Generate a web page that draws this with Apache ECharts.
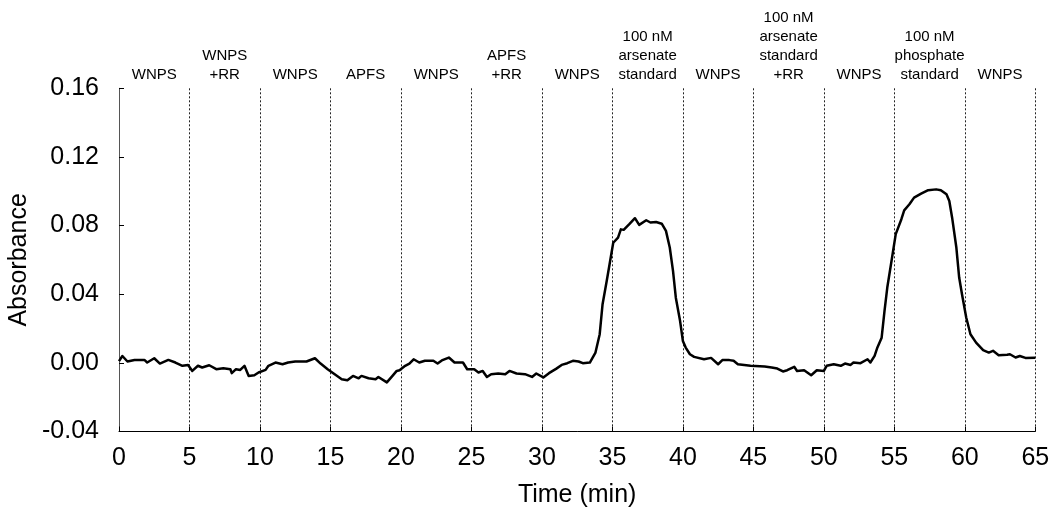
<!DOCTYPE html>
<html>
<head>
<meta charset="utf-8">
<title>Absorbance vs time</title>
<script src="https://cdn.jsdelivr.net/npm/echarts@6/dist/echarts.min.js"></script>
<style>
  html, body { margin: 0; padding: 0; background: #fff; }
  #chart { width: 1054px; height: 515px; }
</style>
</head>
<body>
<div id="chart"></div>
<script>
// Sample sequence: one label per 5-minute injection window
const segmentLabels = [
  'WNPS', 'WNPS\n+RR', 'WNPS', 'APFS', 'WNPS', 'APFS\n+RR', 'WNPS',
  '100 nM\narsenate\nstandard', 'WNPS', '100 nM\narsenate\nstandard\n+RR',
  'WNPS', '100 nM\nphosphate\nstandard', 'WNPS'
];

// Detector trace: time (min) and absorbance
const timeMin = [
  0.0, 0.24, 0.6, 1.1, 1.8, 2.0, 2.5, 2.9, 3.5, 4.0, 4.5, 4.9,
  5.2, 5.6, 5.9, 6.4, 6.9, 7.4, 7.9, 8.0, 8.3, 8.6, 8.9, 9.2, 9.6, 9.9,
  10.4, 10.6, 11.1, 11.6, 12.0, 12.5, 13.3, 13.9, 14.3, 14.8,
  15.3, 15.8, 16.2, 16.6, 17.0, 17.2, 17.7, 18.2, 18.4, 19.0, 19.4, 19.7, 19.9,
  20.3, 20.6, 20.9, 21.3, 21.7, 22.3, 22.6, 22.9, 23.4, 23.8, 24.4, 24.7,
  25.2, 25.5, 25.8, 26.1, 26.4, 26.9, 27.4, 27.7, 28.2, 28.8, 29.3, 29.6,
  30.1, 30.5, 31.0, 31.4, 31.8, 32.2, 32.6, 32.9, 33.4, 33.8,
  34.1, 34.3, 34.6, 34.8, 35.06, 35.4, 35.6, 35.8, 36.2, 36.6, 36.9, 37.4, 37.7,
  38.1, 38.5, 38.8, 39.07, 39.3, 39.5, 39.8, 40.0, 40.2, 40.5, 40.8,
  41.5, 42.0, 42.5, 42.8, 43.3, 43.6, 43.9, 44.8, 45.8, 46.3, 46.7,
  47.1, 47.4, 47.9, 48.1, 48.6, 49.1, 49.5, 50.0, 50.2, 50.7, 51.2, 51.5, 51.9,
  52.1, 52.6, 53.1, 53.3, 53.6, 53.8, 54.1, 54.3, 54.5, 54.8,
  55.1, 55.5, 55.7, 56.07, 56.4, 56.9, 57.4, 57.96, 58.3, 58.7, 58.9,
  59.1, 59.4, 59.6, 59.8, 60.1, 60.4, 60.8, 61.3, 61.7, 62.0, 62.4,
  63.0, 63.2, 63.6, 63.9, 64.3, 65.0
];
const absorbance = [
  0.0010, 0.0040, 0.0008, 0.0017, 0.0017, 0.0002, 0.0027, -0.0004, 0.0017, 0.0002, -0.0017, -0.0012,
  -0.0047, -0.0017, -0.0027, -0.0014, -0.0037, -0.0031, -0.0037, -0.0060, -0.0037, -0.0041, -0.0017, -0.0076, -0.0072, -0.0056,
  -0.0041, -0.0017, 0.0002, -0.0008, 0.0002, 0.0008, 0.0008, 0.0027, -0.0004, -0.0037,
  -0.0066, -0.0095, -0.0101, -0.0076, -0.0090, -0.0076, -0.0090, -0.0095, -0.0082, -0.0114, -0.0076, -0.0047, -0.0043,
  -0.0017, -0.0004, 0.0021, 0.0002, 0.0012, 0.0012, -0.0004, 0.0014, 0.0031, 0.0002, 0.0002, -0.0037,
  -0.0037, -0.0056, -0.0047, -0.0082, -0.0066, -0.0062, -0.0066, -0.0047, -0.0062, -0.0066, -0.0082, -0.0062,
  -0.0085, -0.0060, -0.0035, -0.0012, -0.0002, 0.0012, 0.0008, -0.0002, 0.0002, 0.0060,
  0.0167, 0.0340, 0.0478, 0.0575, 0.0700, 0.0730, 0.0778, 0.0775, 0.0808, 0.0843, 0.0804, 0.0831, 0.0818,
  0.0821, 0.0811, 0.0769, 0.0672, 0.0536, 0.0380, 0.0245, 0.0128, 0.0089, 0.0050, 0.0035,
  0.0021, 0.0029, -0.0008, 0.0016, 0.0016, 0.0012, -0.0008, -0.0017, -0.0021, -0.0027, -0.0033,
  -0.0050, -0.0043, -0.0023, -0.0047, -0.0043, -0.0072, -0.0043, -0.0047, -0.0017, -0.0008, -0.0017, -0.0004, -0.0012,
  0.0002, -0.0002, 0.0021, 0.0002, 0.0041, 0.0090, 0.0147, 0.0300, 0.0439, 0.0594,
  0.0750, 0.0837, 0.0889, 0.0924, 0.0963, 0.0986, 0.1006, 0.1011, 0.1006, 0.0982, 0.0943,
  0.0846, 0.0672, 0.0497, 0.0400, 0.0264, 0.0167, 0.0118, 0.0074, 0.0060, 0.0070, 0.0045,
  0.0047, 0.0050, 0.0031, 0.0040, 0.0029, 0.0030
];

const FONT = "'Liberation Sans', Arial, Helvetica, sans-serif";
const trace = timeMin.map((t, i) => [t, absorbance[i]]);

const chart = echarts.init(document.getElementById('chart'), null, { renderer: 'canvas' });
chart.setOption({
  animation: false,
  backgroundColor: '#fff',
  textStyle: { fontFamily: FONT, color: '#000' },
  grid: { left: 119, right: 18.7, top: 88.3, bottom: 83.5, containLabel: false, outerBoundsMode: 'none' },
  xAxis: [
    {
      type: 'value',
      min: 0, max: 65, interval: 5,
      name: 'Time (min)',
      nameLocation: 'middle',
      nameGap: 51,
      nameTextStyle: { fontSize: 25, fontFamily: FONT, color: '#000' },
      axisLine: { show: true, onZero: false, lineStyle: { color: '#000', width: 1 } },
      axisTick: { show: true, inside: true, length: 5, lineStyle: { color: '#000', width: 1 } },
      axisLabel: { fontSize: 25, fontFamily: FONT, color: '#000', margin: 14 },
      splitLine: { show: true, lineStyle: { color: '#222', width: 1, type: [2, 2] } }
    },
    {
      type: 'category',
      position: 'top',
      data: segmentLabels,
      boundaryGap: true,
      axisLine: { show: false },
      axisTick: { show: false },
      splitLine: { show: false },
      axisLabel: { interval: 0, fontSize: 15, lineHeight: 19, fontFamily: FONT, color: '#000', margin: 4 }
    }
  ],
  yAxis: {
    type: 'value',
    min: -0.04, max: 0.16, interval: 0.04,
    name: 'Absorbance',
    nameLocation: 'middle',
    nameGap: 79,
    nameTextStyle: { fontSize: 25, fontFamily: FONT, color: '#000' },
    axisLine: { show: true, onZero: false, lineStyle: { color: '#555', width: 1 } },
    axisTick: { show: true, inside: true, length: 5, lineStyle: { color: '#000', width: 1 } },
    axisLabel: {
      fontSize: 25, fontFamily: FONT, color: '#000', margin: 20,
      formatter: v => (Math.abs(v) < 1e-9 ? 0 : v).toFixed(2)
    },
    splitLine: { show: false }
  },
  series: [
    {
      type: 'line',
      xAxisIndex: 0,
      data: trace,
      showSymbol: false,
      symbol: 'none',
      smooth: false,
      lineStyle: { color: '#000', width: 2.5, join: 'round' }
    }
  ]
});
</script>
</body>
</html>
